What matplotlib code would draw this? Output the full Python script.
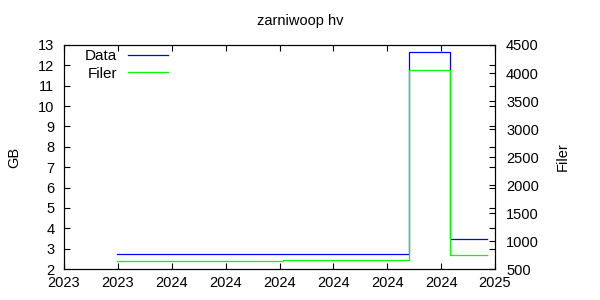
import matplotlib
matplotlib.use("Agg")
import matplotlib.pyplot as plt

plt.rcParams['font.family'] = ['Liberation Sans', 'DejaVu Sans']
plt.rcParams['font.size'] = 10.5

# x positions in tick units (gnuplot time axis, labels only show the year)
x_ticklabels = ['2023', '2023', '2024', '2024', '2024', '2024', '2024', '2024', '2025']
x_pts = [0.99, 4.07, 6.41, 7.17, 7.86]
data_gb = [2.72, 2.72, 12.67, 3.46, 3.46]
filer = [637, 655, 4059, 750, 750]

fig = plt.figure(figsize=(6, 3), dpi=100)
ax = fig.add_axes([0.1067, 0.1033, 0.7183, 0.7467])
ax2 = ax.twinx()

l1, = ax.step(x_pts, data_gb, where='post', color='#0000ff', lw=0.9, label='Data')
l2, = ax2.step(x_pts, filer, where='post', color='#00ff00', lw=0.9, label='Filer')

ax.set_xlim(0, 8)
ax.set_xticks(range(len(x_ticklabels)))
ax.set_xticklabels(x_ticklabels)
ax.set_ylim(2, 13)
ax.set_yticks(range(2, 14))
ax2.set_ylim(500, 4500)
ax2.set_yticks(range(500, 4501, 500))

ax.tick_params(direction='in', length=4, width=0.8, top=True, right=True, labelsize=10.5)
ax.tick_params(axis='x', pad=5)
ax.tick_params(axis='y', pad=7)
ax2.tick_params(direction='in', length=4, width=0.8, labelsize=10.5, pad=8)
for a in (ax, ax2):
    for s in a.spines.values():
        s.set_linewidth(0.8)

ax.set_ylabel('GB', labelpad=12)
ax2.set_ylabel('Filer', labelpad=12)
fig.suptitle('zarniwoop hv', y=0.955, fontsize=10.5)

ax.legend([l1, l2], ['Data', 'Filer'], loc='upper left', bbox_to_anchor=(0.035, 1.01),
          frameon=False, markerfirst=False, handlelength=2.6, handletextpad=0.7,
          labelspacing=0.25, borderaxespad=0, fontsize=11)

fig.savefig('out.png', dpi=100)
